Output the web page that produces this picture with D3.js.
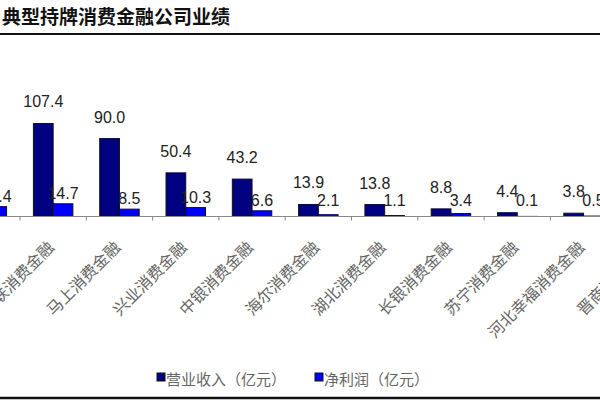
<!DOCTYPE html>
<html>
<head>
<meta charset="utf-8">
<script src="https://cdn.jsdelivr.net/npm/d3@7"></script>
<style>
  body { margin: 0; background: #fff; }
</style>
</head>
<body>
<svg id="chart" width="600" height="400"></svg>
<script>
// values (the figure is cropped at both sides)
const companies = ["捷信消费金融", "招联消费金融", "马上消费金融", "兴业消费金融", "中银消费金融",
  "海尔消费金融", "湖北消费金融", "长银消费金融", "苏宁消费金融", "河北幸福消费金融", "晋商消费金融"];
const revenue = [120.0, 107.4, 90.0, 50.4, 43.2, 13.9, 13.8, 8.8, 4.4, 3.8, 3.0];
const profit = [11.4, 14.7, 8.5, 10.3, 6.6, 2.1, 1.1, 3.4, 0.1, 0.5, 0.2];
const seriesNames = ["营业收入（亿元）", "净利润（亿元）"];
const seriesColors = ["#000080", "#0000ff"];

const svg = d3.select("#chart");
const axisY = 216.5;

let x = d3.scaleBand()
  .domain(companies)
  .range([-46.3, -46.3 + 66.3 * companies.length])
  .paddingInner(0);

// two bars side by side in the middle of each band
let x1 = d3.scaleBand()
  .domain([0, 1])
  .range([0, x.bandwidth()])
  .paddingInner(0)
  .paddingOuter(0.68);

let y = d3.scaleLinear()
  .domain([0, 120])
  .range([axisY, axisY - 120 * 0.866]);

// title
svg.append("text")
  .attr("x", 2).attr("y", 24)
  .attr("font-family", "Noto Sans CJK SC")
  .attr("font-weight", 700)
  .attr("font-size", 19)
  .attr("fill", "#111")
  .text("典型持牌消费金融公司业绩");

svg.append("line")
  .attr("x1", 0).attr("x2", 600).attr("y1", 34).attr("y2", 34)
  .attr("stroke", "#111").attr("stroke-width", 2);

svg.append("line")
  .attr("x1", 0).attr("x2", 600).attr("y1", 398).attr("y2", 398)
  .attr("stroke", "#111").attr("stroke-width", 2.5);

const rows = companies.map((c, i) => ({name: c, values: [revenue[i], profit[i]]}));

const groups = svg.append("g")
  .selectAll("g")
  .data(rows).enter()
  .append("g")
  .attr("transform", d => `translate(${x(d.name)},0)`);

groups.selectAll("rect")
  .data(d => d.values).enter()
  .append("rect")
  .attr("x", (d, i) => x1(i))
  .attr("y", d => y(d))
  .attr("width", x1.bandwidth())
  .attr("height", d => axisY - y(d))
  .attr("fill", (d, i) => seriesColors[i])
  .attr("stroke", "#111")
  .attr("stroke-width", 1);

// value labels
groups.selectAll("text.val")
  .data(d => d.values).enter()
  .append("text")
  .attr("class", "val")
  .attr("x", (d, i) => x1(i) + x1.bandwidth() / 2)
  .attr("y", (d, i) => i == 0 ? y(d) - 16 : Math.min(y(d) - 5, axisY - 11))
  .attr("text-anchor", "middle")
  .attr("font-family", "Liberation Sans, Arial, sans-serif")
  .attr("font-size", 16)
  .attr("fill", "#222")
  .text(d => d.toFixed(1));

// axis line and ticks between categories
svg.append("line")
  .attr("x1", 0).attr("x2", 600).attr("y1", axisY).attr("y2", axisY)
  .attr("stroke", "#888").attr("stroke-width", 1);

svg.append("g")
  .selectAll("line")
  .data(companies).enter()
  .append("line")
  .attr("x1", d => x(d)).attr("x2", d => x(d))
  .attr("y1", axisY).attr("y2", axisY + 4)
  .attr("stroke", "#888");

// category labels, rotated
svg.append("g")
  .selectAll("text")
  .data(companies).enter()
  .append("text")
  .attr("transform", d => `translate(${x(d) + x.bandwidth() / 2 + 2},${axisY + 32}) rotate(-45)`)
  .attr("text-anchor", "end")
  .attr("font-family", "Noto Sans CJK SC")
  .attr("font-size", 16)
  .attr("fill", "#666")
  .text(d => d);

// legend
const legendX = [157, 315];
const legend = svg.append("g")
  .selectAll("g")
  .data(seriesNames).enter()
  .append("g")
  .attr("transform", (d, i) => `translate(${legendX[i]},373)`);

legend.append("rect")
  .attr("width", 8).attr("height", 8)
  .attr("fill", (d, i) => seriesColors[i])
  .attr("stroke", "#111");

legend.append("text")
  .attr("x", 9).attr("y", 12)
  .attr("font-family", "Noto Sans CJK SC")
  .attr("font-size", 15)
  .attr("fill", "#666")
  .text(d => d);
</script>
</body>
</html>
